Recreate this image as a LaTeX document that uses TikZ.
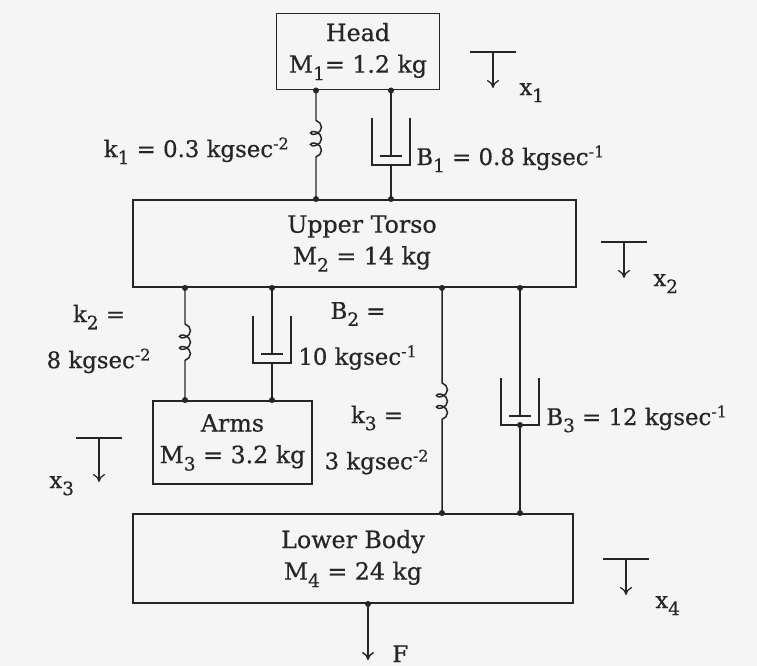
\documentclass[tikz,border=0pt]{standalone}
\usepackage{fontspec}
\setmainfont{DejaVu Serif}[FakeBold=0.6]
\usetikzlibrary{arrows.meta,decorations.pathmorphing}

\newcommand\lo[1]{\raisebox{-0.6ex}{\fontsize{10.5}{10}\selectfont #1}}

\tikzset{
  mass/.style={draw=black!85, line width=1.1pt, inner sep=0pt, align=center,
    text=black!85, font=\fontsize{13.5}{18}\selectfont},
  lbl/.style={inner sep=0pt, text=black!85, font=\fontsize{13}{15}\selectfont},
  rod/.style={draw=black!85, line width=0.85pt},
  spring/.style 2 args={rod, decorate, decoration={coil, amplitude=1.1mm,
    segment length=2.3mm, aspect=0.7, pre length=#1, post length=#2}},
  pics/dashpot/.style={code={
    \draw[black!85, line width=0.6pt] (-19,-47) -- (-19,0) -- (19,0) -- (19,-47);
    \draw[black!85, line width=0.6pt] (-11,-9) -- (11,-9);
  }},
  pics/disp/.style={code={
    \draw[black!85, line width=0.7pt] (-23,0) -- (23,0);
    \draw[black!85, line width=0.7pt, -{To[length=1.6mm,width=2.4mm]}] (0,0) -- (0,#1);
  }}
}

\begin{document}
\begin{tikzpicture}[x=0.2mm, y=-0.2mm]
  \fill[black!4] (0,0) rectangle (757,666);

  % masses
  \node[mass, minimum width=32.6mm, minimum height=15.2mm] (head) at (358,51.5)
    {Head\\M\lo{1}= 1.2 kg};
  \node[mass, minimum width=88.6mm, minimum height=17.4mm] (torso) at (354.5,243.5)
    {\hspace*{3mm}Upper Torso\\\hspace*{3mm}M\lo{2} = 14 kg};
  \node[mass, minimum width=31.8mm, minimum height=16.6mm] (arms) at (232.5,442.5)
    {Arms\\M\lo{3} = 3.2 kg};
  \node[mass, minimum width=88mm, minimum height=17.8mm] (lower) at (353,558.5)
    {Lower Body\\M\lo{4} = 24 kg};

  % attachment lines
  \coordinate (ks1) at (316,0);
  \coordinate (ks2) at (185,0);
  \coordinate (ks3) at (442,0);
  \coordinate (pb1) at (391,156);
  \coordinate (cb1) at (391,165);
  \coordinate (pb2) at (272,354);
  \coordinate (cb2) at (272,363);
  \coordinate (pb3) at (520,416);
  \coordinate (cb3) at (520,425);
  \coordinate (kf) at (368,660);

  % springs
  \draw[spring={6mm}{7.2mm}] (head.south -| ks1) -- (torso.north -| ks1);
  \draw[spring={7.2mm}{7.4mm}] (torso.south -| ks2) -- (arms.north -| ks2);
  \draw[spring={19mm}{16.6mm}] (torso.south -| ks3) -- (lower.north -| ks3);

  % dampers
  \draw[rod] (head.south -| pb1) -- (pb1);
  \draw[rod] (cb1) -- (torso.north -| cb1);
  \pic at (cb1) {dashpot};
  \draw[rod] (torso.south -| pb2) -- (pb2);
  \draw[rod] (cb2) -- (arms.north -| cb2);
  \pic at (cb2) {dashpot};
  \draw[rod] (torso.south -| pb3) -- (pb3);
  \draw[rod] (cb3) -- (lower.north -| cb3);
  \pic at (cb3) {dashpot};

  % force
  \draw[rod, -{To[length=1.6mm,width=2.4mm]}] (lower.south -| kf) -- (kf);

  % joints
  \foreach \p in {head.south -| ks1, head.south -| pb1, torso.north -| ks1,
      torso.north -| cb1, torso.south -| ks2, torso.south -| pb2,
      torso.south -| ks3, torso.south -| pb3, arms.north -| ks2,
      arms.north -| cb2, lower.north -| ks3, lower.north -| cb3,
      lower.south -| kf, cb3}
    \fill[black!85] (\p) circle[radius=0.6mm];

  % parameters
  \node[lbl, anchor=base east] (k1) at (290,157) {k\lo{1} = 0.3 kgsec\textsuperscript{-2}};
  \node[lbl, anchor=base west] (b1) at (416,165) {B\lo{1} = 0.8 kgsec\textsuperscript{-1}};
  \node[lbl, align=center] (k2) at (99,339) {k\lo{2} =\\[10pt]8 kgsec\textsuperscript{-2}};
  \node[lbl, align=center] (b2) at (358,336) {B\lo{2} =\\[10pt]10 kgsec\textsuperscript{-1}};
  \node[lbl, align=center] (k3) at (377,440) {k\lo{3} =\\[10pt]3 kgsec\textsuperscript{-2}};
  \node[lbl, anchor=base west] (b3) at (546,425) {B\lo{3} = 12 kgsec\textsuperscript{-1}};

  % displacements
  \pic at (493,52) {disp=36};
  \node[lbl, anchor=base west] (x1) at (519,95) {x\lo{1}};
  \pic at (624,242) {disp=36};
  \node[lbl, anchor=base west] (x2) at (653,286) {x\lo{2}};
  \pic at (99,438) {disp=44};
  \node[lbl, anchor=base west] (x3) at (49,488) {x\lo{3}};
  \pic at (626,559) {disp=36};
  \node[lbl, anchor=base west] (x4) at (655,608) {x\lo{4}};
  \node[lbl, anchor=base west] (f) at (392,662) {F};
\end{tikzpicture}
\end{document}
